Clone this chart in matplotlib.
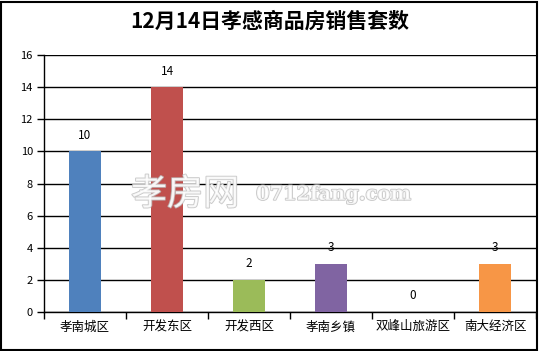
import matplotlib
matplotlib.use("Agg")
import matplotlib.pyplot as plt
import matplotlib.patheffects as pe
from matplotlib.patches import Rectangle

plt.rcParams['font.family'] = ['Noto Sans CJK SC', 'DejaVu Sans']

# Data
districts = ["孝南城区", "开发东区", "开发西区", "孝南乡镇", "双峰山旅游区", "南大经济区"]
sales = [10, 14, 2, 3, 0, 3]
colors = ["#4F81BD", "#C0504D", "#9BBB59", "#8064A2", "#4BACC6", "#F79646"]
y_ticks = [0, 2, 4, 6, 8, 10, 12, 14, 16]
title = "12月14日孝感商品房销售套数"

fig = plt.figure(figsize=(5.39, 3.51), dpi=100)
ax = fig.add_axes([0.0816, 0.111, 0.913, 0.732])
ax.set_axisbelow(True)

x = range(len(districts))
ax.bar(x, sales, width=0.39, color=colors, zorder=3)
for i, v in enumerate(sales):
  ax.text(i, v + 1.0, str(v), ha='center', va='center', fontsize=8.5, zorder=4)

ax.set_xlim(-0.5, len(districts) - 0.5)
ax.set_ylim(0, 16)
ax.set_yticks(y_ticks)
ax.set_yticklabels([str(t) for t in y_ticks], fontsize=8)
ax.yaxis.grid(True, color='black', linewidth=1)

# category ticks sit between groups, labels centred under bars
ax.set_xticks([i - 0.5 for i in range(len(districts) + 1)])
ax.set_xticklabels([])
ax.set_xticks(list(x), minor=True)
ax.set_xticklabels(districts, minor=True, fontsize=9)
ax.tick_params(axis='x', which='minor', length=0, pad=6)
ax.tick_params(axis='x', which='major', length=5, width=1, direction='out')
ax.tick_params(axis='y', length=5, width=1, direction='out', pad=3)

for side in ['top', 'right']:
  ax.spines[side].set_visible(False)
ax.spines['left'].set_linewidth(1)
ax.spines['bottom'].set_linewidth(1)

# Title
fig.text(0.5, 0.94, title, ha='center', va='center', fontsize=15,
         fontweight='bold', color='black')

# Watermark
wm = [pe.withStroke(linewidth=1.3, foreground='#bdbdbd')]
fig.text(0.243, 0.445, "孝房网", fontsize=26, color='white', alpha=0.8,
         ha='left', va='center', path_effects=wm, zorder=10)
fig.text(0.475, 0.445, "0712fang.com", fontsize=14, color='white', alpha=0.8,
         family='DejaVu Serif', fontweight='bold',
         ha='left', va='center', path_effects=wm, zorder=10)

# outer frame
fig.patches.append(Rectangle((0.002, 0.004), 0.994, 0.99, transform=fig.transFigure,
                             fill=False, edgecolor='black', linewidth=1.5))

fig.savefig("out.png", dpi=100)
